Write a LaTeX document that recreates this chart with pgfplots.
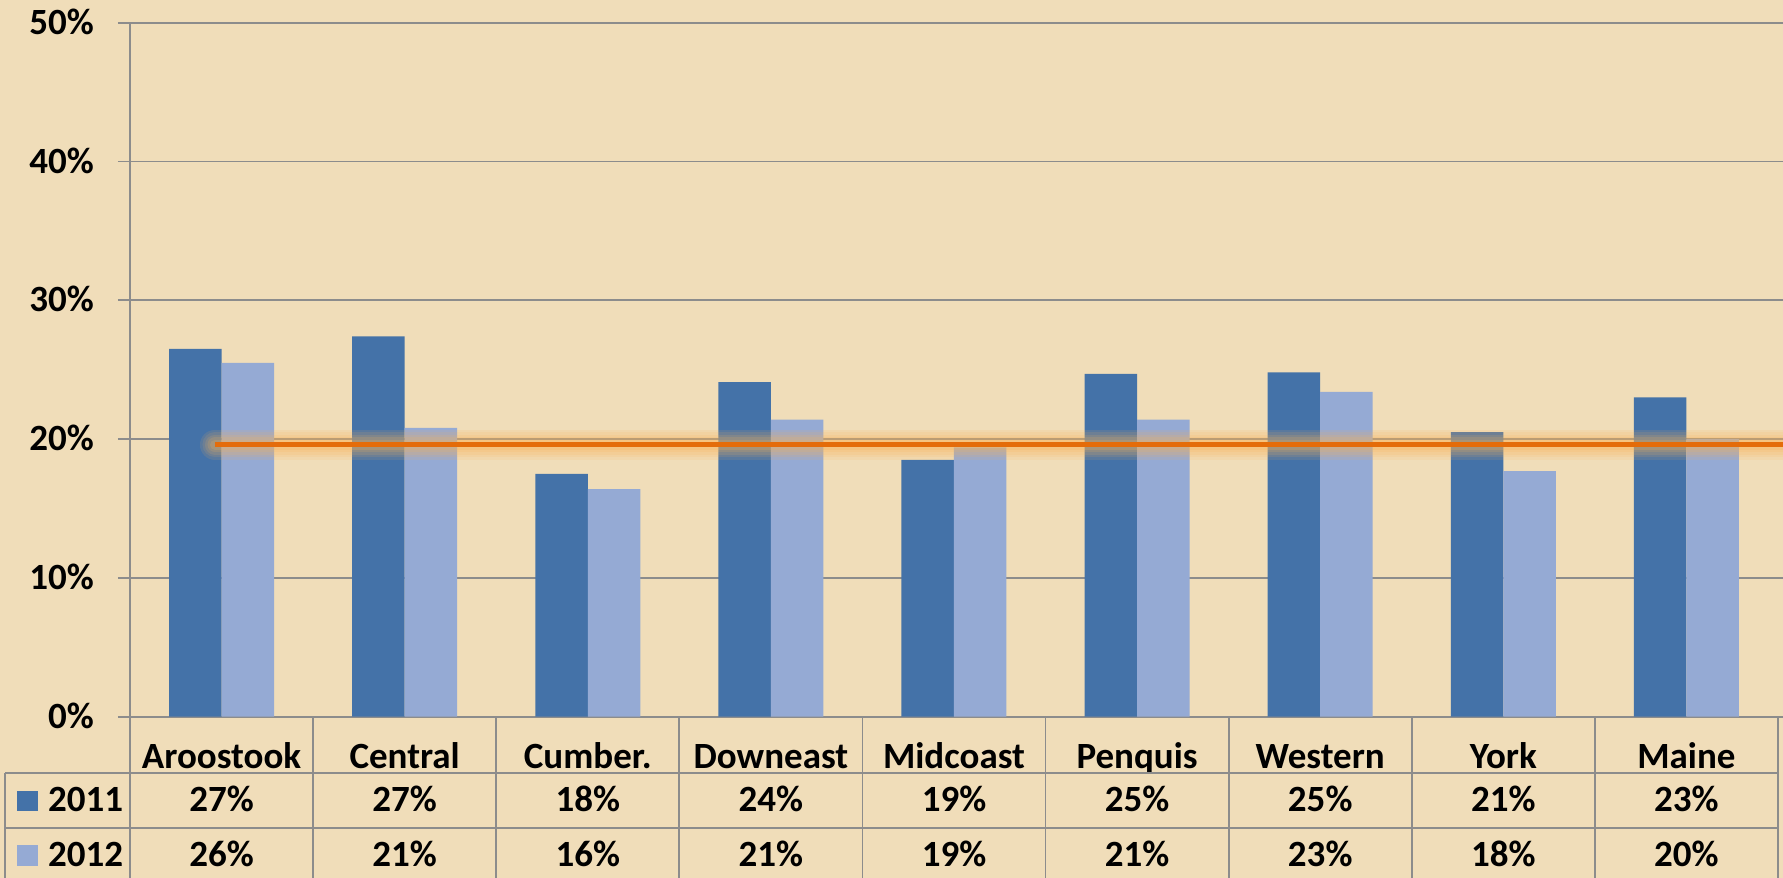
\documentclass[border=0pt]{standalone}
\usepackage{pgfplots}
\pgfplotsset{compat=1.18}
\usepackage{fontspec}
\setmainfont{Carlito}
\definecolor{bg}{RGB}{240,221,185}
\definecolor{c2011}{RGB}{68,114,168}
\definecolor{c2012}{RGB}{149,170,212}
\definecolor{gridc}{RGB}{140,140,140}
\definecolor{orng}{RGB}{228,108,10}
\definecolor{glow}{RGB}{250,178,85}
\begin{document}
\begin{tikzpicture}[x=1pt,y=1pt,font={\fontsize{37}{44}\selectfont\bfseries}]
\fill[bg] (0,0) rectangle (1783,878);
\useasboundingbox (0,0) rectangle (1783,878);
\begin{axis}[
  at={(130pt,161.3pt)}, anchor=south west, scale only axis,
  width=1648pt, height=694pt,
  xmin=-0.5, xmax=8.5, ymin=0, ymax=50, clip=false,
  axis line style={draw=none},
  ytick={0,10,20,30,40,50},
  yticklabels={0\%,10\%,20\%,30\%,40\%,50\%},
  ymajorgrids, grid style={gridc, line width=1.7pt},
  tick align=outside, major tick length=12pt,
  ytick style={gridc, line width=1.7pt},
  xtick={0,...,8},
  xticklabels={Aroostook,Central,Cumber.,Downeast,Midcoast,Penquis,Western,York,Maine},
  xtick style={draw=none},
  ticklabel style={font={\fontsize{37}{44}\selectfont\bfseries}},
  yticklabel style={anchor=base east, inner sep=0pt, xshift=-24pt, yshift=-11.7pt},
  xticklabel style={anchor=base, inner sep=0pt, yshift=-39.3pt},
]
\addplot[ybar, bar width=52.5pt, bar shift=-26.25pt, fill=c2011, draw=none]
  coordinates {(0,26.5) (1,27.4) (2,17.5) (3,24.1) (4,18.5) (5,24.7) (6,24.8) (7,20.5) (8,23.0)};
\addplot[ybar, bar width=52.5pt, bar shift=26.25pt, fill=c2012, draw=none]
  coordinates {(0,25.5) (1,20.8) (2,16.4) (3,21.4) (4,19.4) (5,21.4) (6,23.4) (7,17.7) (8,20.0)};
\addplot[sharp plot, no marks, glow, opacity=0.12, line width=30pt, line cap=round] coordinates {(-0.036,19.6) (8.53,19.6)};
\addplot[sharp plot, no marks, glow, opacity=0.12, line width=25pt, line cap=round] coordinates {(-0.036,19.6) (8.53,19.6)};
\addplot[sharp plot, no marks, glow, opacity=0.14, line width=20pt, line cap=round] coordinates {(-0.036,19.6) (8.53,19.6)};
\addplot[sharp plot, no marks, glow, opacity=0.16, line width=15pt, line cap=round] coordinates {(-0.036,19.6) (8.53,19.6)};
\addplot[sharp plot, no marks, glow, opacity=0.2, line width=10pt, line cap=round] coordinates {(-0.036,19.6) (8.53,19.6)};
\addplot[sharp plot, no marks, orng, line width=5.3pt] coordinates {(-0.036,19.6) (8.53,19.6)};
\end{axis}
% table
\begin{scope}[gridc, line width=1.7pt]
\draw (130,855.3) -- (130,-5);
\draw (1778,161.3) -- (1778,-5);
\foreach \k in {1,...,8} \draw (130+183.11*\k,161.3) -- ++(0,-170);
\draw (5,104.7) -- (1778,104.7);
\draw (5,49.7) -- (1778,49.7);
\draw (5,104.7) -- (5,-5);
\end{scope}
\foreach \v [count=\i from 0] in {27,27,18,24,19,25,25,21,23}
  \node[anchor=base, inner sep=0pt] at (221.55+183.11*\i, 66.3) {\v\%};
\foreach \v [count=\i from 0] in {26,21,16,21,19,21,23,18,20}
  \node[anchor=base, inner sep=0pt] at (221.55+183.11*\i, 11.3) {\v\%};
\fill[c2011] (17,67.3) rectangle (38,87.3);
\fill[c2012] (17,12) rectangle (38,33);
\node[anchor=base west, inner sep=0pt] at (48,66.3) {2011};
\node[anchor=base west, inner sep=0pt] at (48,11.3) {2012};
\end{tikzpicture}
\end{document}
